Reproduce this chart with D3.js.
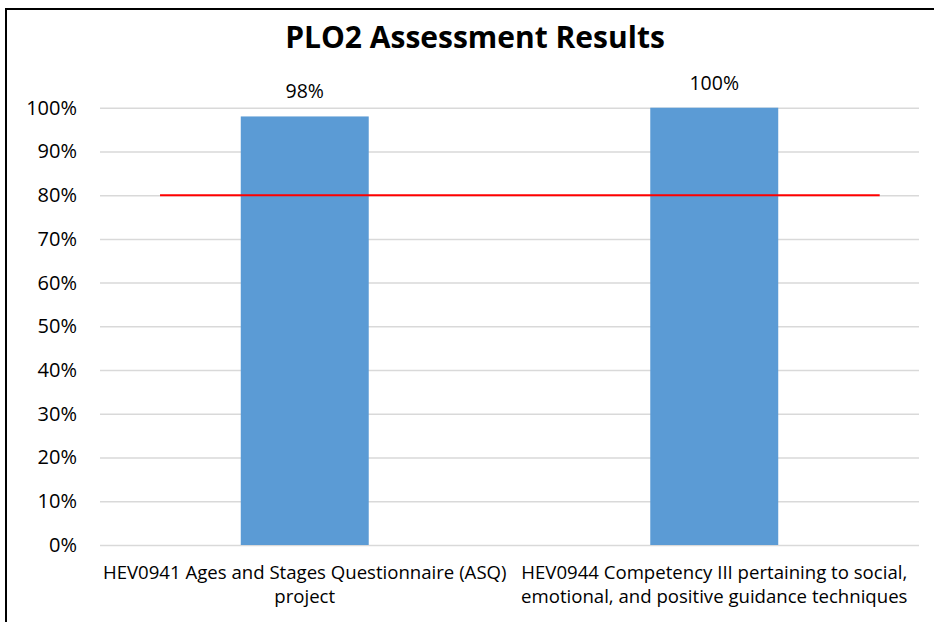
<!DOCTYPE html>
<html>
<head>
<meta charset="utf-8">
<script src="https://cdn.jsdelivr.net/npm/d3@7"></script>
<style>
  html, body { margin: 0; padding: 0; background: #fff; }
  svg { display: block; }
  text { font-family: "Open Sans", "Liberation Sans", sans-serif; fill: #000; }
</style>
</head>
<body>
<svg id="chart" width="934" height="622"></svg>
<script>
// ---- data ----
const title = "PLO2 Assessment Results";
const categories = ["HEV0941", "HEV0944"];
const categoryLines = [
  ["HEV0941 Ages and Stages Questionnaire (ASQ)", "project"],
  ["HEV0944 Competency III pertaining to social,", "emotional, and positive guidance techniques"]
];
const values = [0.98, 1.00];
const valueLabels = ["98%", "100%"];
const targetValue = 0.80;
const targetSpan = [0.0733, 0.952];   // extent of the target line across the plot (fraction of width)
const yTicks = [0, 0.1, 0.2, 0.3, 0.4, 0.5, 0.6, 0.7, 0.8, 0.9, 1.0];

// ---- layout ----
const W = 934, H = 622;
const plot = { left: 100, right: 919, top: 107.7, bottom: 545 };

const svg = d3.select("#chart");

// chart frame (cropped: only top and left edges visible)
svg.append("rect")
  .attr("x", 6).attr("y", 9)
  .attr("width", 1000).attr("height", 1000)
  .attr("fill", "none").attr("stroke", "#000").attr("stroke-width", 2);

const x = d3.scaleBand()
  .domain(categories)
  .range([plot.left, plot.right])
  .paddingInner(0.6875)
  .paddingOuter(0.34375);

const y = d3.scaleLinear()
  .domain([0, 1])
  .range([plot.bottom, plot.top]);

const xFrac = d3.scaleLinear().domain([0, 1]).range([plot.left, plot.right]);

// gridlines
svg.append("g")
  .attr("transform", `translate(${plot.left},0)`)
  .call(d3.axisLeft(y).tickValues(yTicks).tickSize(-(plot.right - plot.left)).tickFormat(""))
  .call(g => g.select(".domain").remove())
  .call(g => g.selectAll("line").attr("stroke", "#d9d9d9").attr("stroke-width", 1.5));

// y axis labels
svg.append("g")
  .attr("transform", `translate(${plot.left},0)`)
  .call(d3.axisLeft(y).tickValues(yTicks).tickSize(0).tickPadding(23).tickFormat(d3.format(".0%")))
  .call(g => g.select(".domain").remove())
  .call(g => g.selectAll("text")
    .attr("font-size", "20px")
    .attr("font-family", "'Open Sans', sans-serif")
    .attr("fill", "#000"));

// bars
svg.append("g").selectAll("rect")
  .data(values)
  .join("rect")
  .attr("x", (d, i) => x(categories[i]))
  .attr("width", x.bandwidth())
  .attr("y", d => y(d))
  .attr("height", d => y(0) - y(d))
  .attr("fill", "#5b9bd5");

// value labels
svg.append("g").selectAll("text")
  .data(values)
  .join("text")
  .attr("x", (d, i) => x(categories[i]) + x.bandwidth() / 2)
  .attr("y", d => y(d) - 18)
  .attr("text-anchor", "middle")
  .attr("font-size", "19.5px")
  .text((d, i) => valueLabels[i]);

// target line
svg.append("line")
  .attr("x1", xFrac(targetSpan[0]))
  .attr("x2", xFrac(targetSpan[1]))
  .attr("y1", y(targetValue))
  .attr("y2", y(targetValue))
  .attr("stroke", "#ff0000")
  .attr("stroke-width", 2);

// category labels
const catG = svg.append("g").selectAll("text")
  .data(categoryLines)
  .join("text")
  .attr("text-anchor", "middle")
  .attr("font-size", "18.6px")
  .attr("x", (d, i) => x(categories[i]) + x.bandwidth() / 2)
  .attr("y", 579);
catG.selectAll("tspan")
  .data((d, i) => d.map(t => ({ t, i })))
  .join("tspan")
  .attr("x", d => x(categories[d.i]) + x.bandwidth() / 2)
  .attr("dy", (d, j) => j === 0 ? 0 : 24)
  .text(d => d.t);

// title
svg.append("text")
  .attr("x", 475)
  .attr("y", 48)
  .attr("text-anchor", "middle")
  .attr("font-size", "30px")
  .attr("font-weight", "bold")
  .text(title);
</script>
</body>
</html>
